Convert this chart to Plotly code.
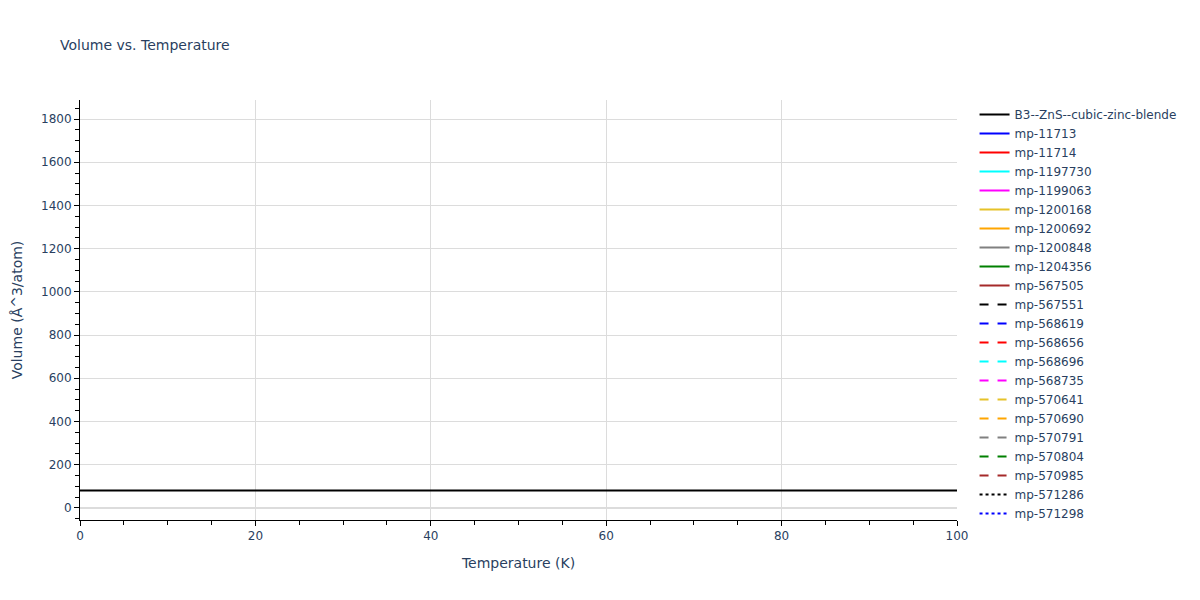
import plotly.graph_objects as go

temperature = [0, 10, 20, 30, 40, 50, 60, 70, 80, 90, 100]
volume_b3 = [80.5, 80.5, 80.5, 80.5, 80.5, 80.5, 80.5, 80.5, 80.5, 80.5, 80.5]

other_names = [
    "mp-11713", "mp-11714", "mp-1197730", "mp-1199063", "mp-1200168",
    "mp-1200692", "mp-1200848", "mp-1204356", "mp-567505", "mp-567551",
    "mp-568619", "mp-568656", "mp-568696", "mp-568735", "mp-570641",
    "mp-570690", "mp-570791", "mp-570804", "mp-570985", "mp-571286",
    "mp-571298",
]
colors = ["black", "blue", "red", "cyan", "magenta", "#e6c229", "orange", "grey", "green", "brown"]

fig = go.Figure()
fig.add_trace(go.Scatter(x=temperature, y=volume_b3, mode="lines",
                         name="B3--ZnS--cubic-zinc-blende",
                         line=dict(color="black", width=2)))

# the other structures have no points inside the plotted window
for i, name in enumerate(other_names, start=1):
    dash = ["solid", "dash", "dot"][i // 10]
    fig.add_trace(go.Scatter(x=[None], y=[None], mode="lines", name=name,
                             line=dict(color=colors[i % 10], width=2, dash=dash)))

axis_style = dict(
    showline=True, linecolor="black", linewidth=1,
    ticks="outside", tickcolor="black",
    gridcolor="#dcdcdc", zeroline=True, zerolinecolor="#dcdcdc", zerolinewidth=2,
)

fig.update_layout(
    title=dict(text="Volume vs. Temperature", x=0.05, font=dict(size=14)),
    template="plotly_white",
    width=1200, height=600,
    margin=dict(l=80, r=243, t=100, b=80),
    font=dict(family="DejaVu Sans, Verdana, sans-serif", color="#2a3f5f"),
    legend=dict(maxheight=600),
    xaxis=dict(title="Temperature (K)", range=[0, 100], dtick=20,
               minor=dict(ticks="outside", tickcolor="black", ticklen=4, dtick=5),
               **axis_style),
    yaxis=dict(title="Volume (Å^3/atom)", range=[-56, 1888], dtick=200,
               minor=dict(ticks="outside", tickcolor="black", ticklen=4, dtick=50),
               **axis_style),
)

fig.write_html("out.html", config={"displayModeBar": False},
               post_script="document.body.style.margin='0';")
